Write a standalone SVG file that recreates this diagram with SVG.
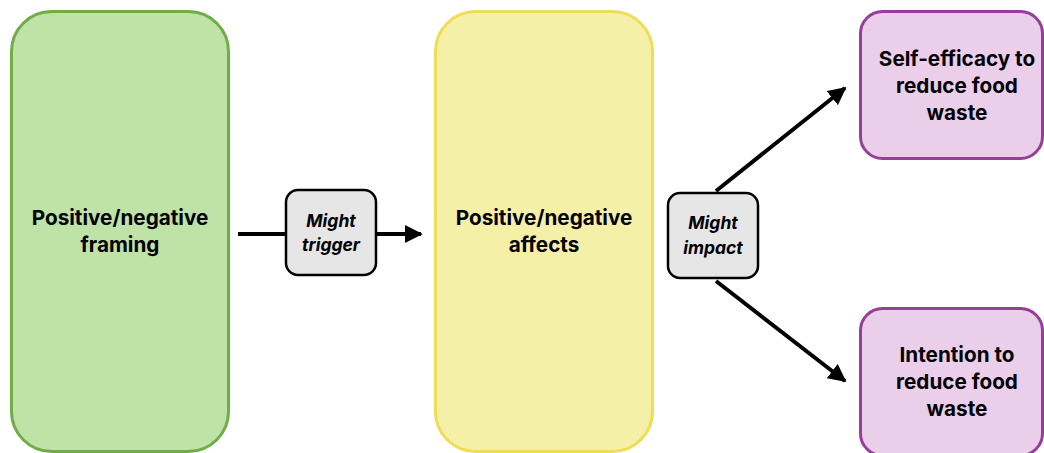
<svg xmlns="http://www.w3.org/2000/svg" width="1044" height="453" viewBox="0 0 1044 453">
<defs>
<style>
.lbl{font-family:Inter,"Liberation Sans",sans-serif;font-weight:700;font-size:20.7px;fill:#000;text-anchor:middle}
.it{font-family:Inter,"Liberation Sans",sans-serif;font-weight:700;font-style:italic;font-size:17.5px;fill:#000;text-anchor:middle}
.conn{stroke:#000;stroke-width:4;fill:none}
</style>
<marker id="ah" viewBox="0 0 10 10" refX="9" refY="5" markerWidth="4.5" markerHeight="4.5" markerUnits="strokeWidth" orient="auto">
<path d="M0,0 L10,5 L0,10 z" fill="#000"/>
</marker>
</defs>
<rect width="1044" height="453" fill="#fff"/>
<g id="connectors">
<line class="conn" x1="238" y1="234" x2="287" y2="234"/>
<line class="conn" x1="376" y1="234" x2="421" y2="234" marker-end="url(#ah)"/>
<line class="conn" x1="716" y1="191" x2="845" y2="88" marker-end="url(#ah)"/>
<line class="conn" x1="716" y1="281" x2="845" y2="381" marker-end="url(#ah)"/>
</g>
<g id="framing">
<rect x="11.5" y="11.5" width="217" height="440" rx="40" fill="#BFE2A6" stroke="#6FAD47" stroke-width="3"/>
<text class="lbl" x="120" y="225">Positive/negative</text>
<text class="lbl" x="120" y="252">framing</text>
</g>
<g id="trigger">
<rect x="286" y="190" width="90" height="85" rx="12" fill="#E6E6E6" stroke="#000" stroke-width="2.5"/>
<text class="it" x="331" y="227">Might</text>
<text class="it" x="331" y="251">trigger</text>
</g>
<g id="affects">
<rect x="435.5" y="11.5" width="217" height="440" rx="40" fill="#F5F0A8" stroke="#EEDD55" stroke-width="3"/>
<text class="lbl" x="544" y="225">Positive/negative</text>
<text class="lbl" x="544" y="252">affects</text>
</g>
<g id="impact">
<rect x="668" y="193" width="90" height="85" rx="12" fill="#E6E6E6" stroke="#000" stroke-width="2.5"/>
<text class="it" x="713" y="229">Might</text>
<text class="it" x="713" y="254">impact</text>
</g>
<g id="selfefficacy">
<rect x="860.5" y="11.5" width="182" height="147" rx="22" fill="#EBCFEA" stroke="#953F98" stroke-width="3"/>
<text class="lbl" x="957" y="66">Self-efficacy to</text>
<text class="lbl" x="957" y="93">reduce food</text>
<text class="lbl" x="957" y="120">waste</text>
</g>
<g id="intention">
<rect x="860.5" y="308.5" width="182" height="147" rx="22" fill="#EBCFEA" stroke="#953F98" stroke-width="3"/>
<text class="lbl" x="957" y="362">Intention to</text>
<text class="lbl" x="957" y="389">reduce food</text>
<text class="lbl" x="957" y="416">waste</text>
</g>
</svg>
